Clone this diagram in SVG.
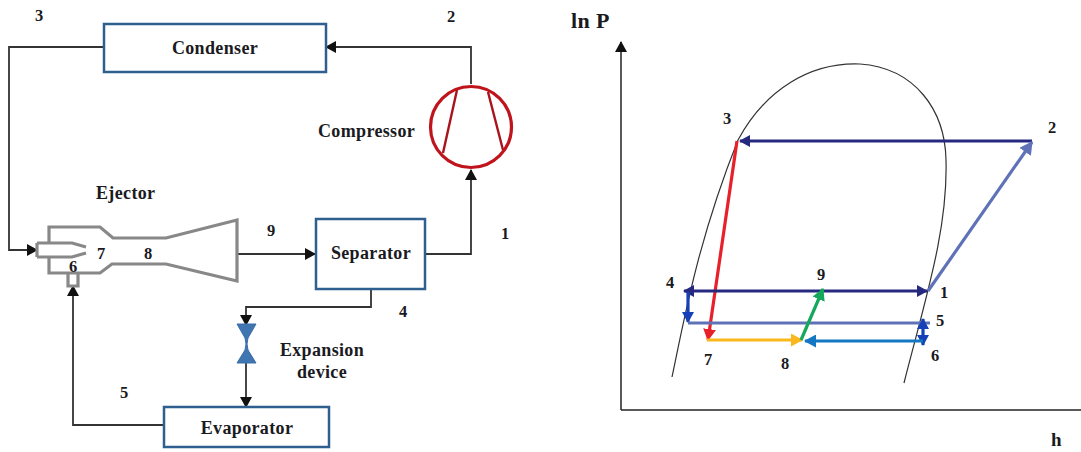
<svg xmlns="http://www.w3.org/2000/svg" width="1081" height="452" viewBox="0 0 1081 452">
<style>
text{font-family:"Liberation Serif",serif;font-weight:bold;fill:#1a1a22;font-size:18px;letter-spacing:.35px}
.n{font-size:16.500px;text-anchor:middle;letter-spacing:0}
.c{text-anchor:middle}
.box{fill:#fff;stroke:#2f5f8f;stroke-width:2.500}
.w{fill:none;stroke:#333;stroke-width:1.800}
.g{fill:none;stroke:#888;stroke-width:3.200}
.cv{fill:none;stroke:#333;stroke-width:1.200}
.p{fill:none;stroke-width:3.200}
</style>
<defs>
<marker id="k" markerUnits="userSpaceOnUse" markerWidth="11" markerHeight="12" refX="10" refY="6" orient="auto"><path d="M0 0L11 6L0 12Z" fill="#111"/></marker>
<marker id="navy" markerUnits="userSpaceOnUse" markerWidth="12" markerHeight="12" refX="10" refY="6" orient="auto-start-reverse"><path d="M0 0L11 6L0 12Z" fill="#27287f"/></marker>
<marker id="blue" markerUnits="userSpaceOnUse" markerWidth="12" markerHeight="12" refX="10" refY="6" orient="auto-start-reverse"><path d="M0 0L11 6L0 12Z" fill="#1540b8"/></marker>
<marker id="peri" markerUnits="userSpaceOnUse" markerWidth="14" markerHeight="14" refX="12" refY="7" orient="auto"><path d="M0 0L13 7L0 14Z" fill="#5f72b8"/></marker>
<marker id="red" markerUnits="userSpaceOnUse" markerWidth="13" markerHeight="13" refX="11" refY="6.500" orient="auto"><path d="M0 0L12 6.500L0 13Z" fill="#e8202a"/></marker>
<marker id="yel" markerUnits="userSpaceOnUse" markerWidth="13" markerHeight="13" refX="11" refY="6.500" orient="auto"><path d="M0 0L12 6.500L0 13Z" fill="#fbb81c"/></marker>
<marker id="grn" markerUnits="userSpaceOnUse" markerWidth="13" markerHeight="13" refX="11" refY="6.500" orient="auto"><path d="M0 0L12 6.500L0 13Z" fill="#14a85a"/></marker>
<marker id="sky" markerUnits="userSpaceOnUse" markerWidth="13" markerHeight="13" refX="11" refY="6.500" orient="auto"><path d="M0 0L12 6.500L0 13Z" fill="#1477c4"/></marker>
</defs>
<g id="connectors">
<path class="w" marker-end="url(#k)" d="M471 84V47H326"/>
<path class="w" marker-end="url(#k)" d="M104 47H9V250H37"/>
<path class="w" marker-end="url(#k)" d="M238 254H315"/>
<path class="w" marker-end="url(#k)" d="M426 254H471V170"/>
<path class="w" marker-end="url(#k)" d="M371 290V307H246V325"/>
<path class="w" marker-end="url(#k)" d="M246 362V407"/>
<path class="w" marker-end="url(#k)" d="M163 425H73V286"/>
</g>
<g id="condenser"><rect class="box" x="104" y="24" width="222" height="48"/><text class="c" x="215" y="54">Condenser</text></g>
<g id="compressor">
<circle cx="471" cy="127" r="40.500" fill="#fff" stroke="#c0141c" stroke-width="3.200"/>
<path d="M457 90L443 153M488 92L503 150" fill="none" stroke="#a8141c" stroke-width="2.400"/>
<text x="318" y="137">Compressor</text>
</g>
<g id="separator"><rect class="box" x="316" y="219" width="109" height="70"/><text class="c" x="371" y="259">Separator</text></g>
<g id="evaporator"><rect class="box" x="164" y="407" width="165" height="40"/><text class="c" x="247" y="434">Evaporator</text></g>
<g id="expansion">
<path d="M237 324H256L248 338L247 344L248 350L256 363H237L245 350L246 344L245 338Z" fill="#3f75b0" stroke="#3a6ea8"/>
<text class="c" x="322" y="356">Expansion</text><text class="c" x="322" y="378">device</text>
</g>
<g id="ejector">
<path class="g" d="M49 243V227H100L113 238H166L237 220V281L166 264H112L100 273H49V257"/>
<path class="g" d="M37 243H72L86 247M37 257H72L86 253M37 243V257"/>
<path class="g" d="M68 274V286H78V274"/>
<text x="96" y="199">Ejector</text>
</g>
<g id="ph-axes" fill="none">
<path d="M621 410V42" stroke="#222" stroke-width="1.500" marker-end="url(#k)"/>
<path d="M621 410H1081" stroke="#222" stroke-width="1.500"/>
</g>
<g id="ph-dome"><path class="cv" d="M672 377C684 320 698 240 738 140C765 90 810 62 860 64C915 68 945 110 946 160C948 230 925 300 904 383"/></g>
<g id="ph-cycle">
<path class="p" stroke="#27287f" marker-end="url(#navy)" d="M1032 141H740"/>
<path class="p" stroke="#5f72b8" marker-end="url(#peri)" d="M928 291L1032 142"/>
<path class="p" stroke="#e8202a" marker-end="url(#red)" d="M737 141L708 340"/>
<path class="p" stroke="#27287f" marker-start="url(#navy)" marker-end="url(#navy)" d="M684 291H927"/>
<path class="p" stroke="#1540b8" marker-end="url(#blue)" d="M688 292V322"/>
<path class="p" stroke="#5f72b8" d="M688 323H930"/>
<path class="p" stroke="#1540b8" marker-start="url(#blue)" marker-end="url(#blue)" d="M923 319V345"/>
<path class="p" stroke="#fbb81c" marker-end="url(#yel)" d="M707 340H802"/>
<path class="p" stroke="#1477c4" marker-end="url(#sky)" d="M923 341H805"/>
<path class="p" stroke="#14a85a" marker-end="url(#grn)" d="M801 340L823 289"/>
</g>
<g id="labels">
<text class="n" x="39" y="21">3</text><text class="n" x="451" y="22">2</text><text class="n" x="271" y="236">9</text><text class="n" x="505" y="239">1</text>
<text class="n" x="403" y="317">4</text><text class="n" x="124" y="398">5</text><text class="n" x="73" y="272">6</text><text class="n" x="101" y="259">7</text><text class="n" x="148" y="259">8</text>
<text x="571" y="28" style="font-size:22px">ln P</text>
<text class="n" x="727" y="124">3</text><text class="n" x="1052" y="133">2</text><text class="n" x="670" y="288">4</text><text class="n" x="944" y="298">1</text><text class="n" x="821" y="280">9</text><text class="n" x="940" y="326">5</text><text class="n" x="935" y="361">6</text><text class="n" x="708" y="365">7</text><text class="n" x="785" y="369">8</text>
<text x="1051" y="446" style="font-size:19px">h</text>
</g>
</svg>
